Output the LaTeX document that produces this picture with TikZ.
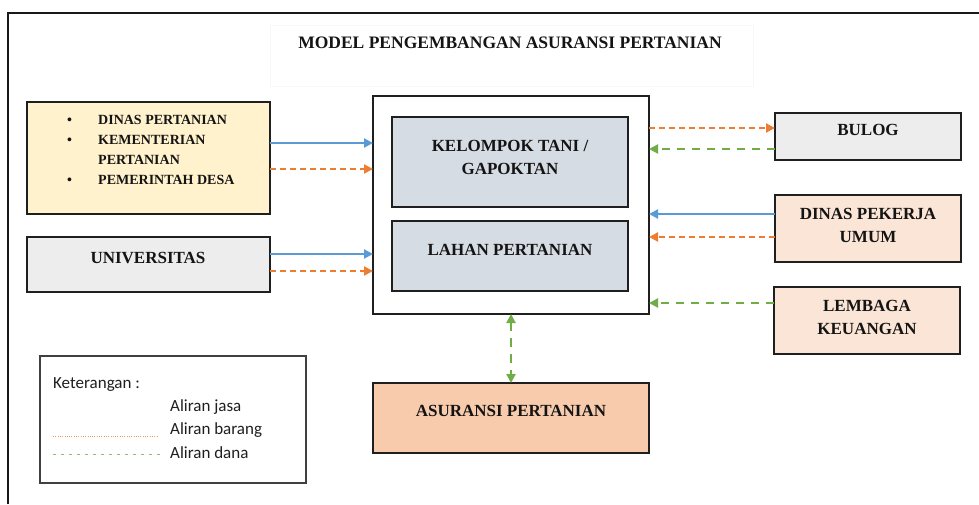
\documentclass[tikz,border=0pt]{standalone}
\usepackage{fontspec}
\setmainfont{Liberation Serif}
\newfontfamily\legfont{Carlito}
\usetikzlibrary{arrows.meta}
\definecolor{jasa}{HTML}{5B9BD5}
\definecolor{barang}{HTML}{ED7D31}
\definecolor{dana}{HTML}{70AD47}
\definecolor{kuning}{HTML}{FFF2CC}
\definecolor{abu}{HTML}{EDEDED}
\definecolor{biru}{HTML}{D6DCE4}
\definecolor{peach}{HTML}{FBE5D6}
\definecolor{peachb}{HTML}{F8CBAD}
\begin{document}
\begin{tikzpicture}[x=1pt,y=-1pt,
  box/.style={draw=black!88, line width=2.2pt, inner sep=0pt, outer sep=0pt, anchor=north west},
  lbl/.style={font=\fontsize{17}{23}\selectfont\bfseries, align=center, inner sep=0pt, text=black!92},
  leg/.style={font=\legfont\fontsize{17}{23}\selectfont, anchor=west, inner sep=0pt, text=black!88},
  jasaA/.style={draw=jasa, line width=2.1pt, -{Triangle[length=9pt,width=9pt]}},
  barangA/.style={draw=barang, line width=2.1pt, dash pattern=on 6pt off 4pt, -{Triangle[length=9pt,width=9pt]}},
  danaA/.style={draw=dana, line width=2.1pt, dash pattern=on 8pt off 7pt, -{Triangle[length=9pt,width=9pt]}},
  danaB/.style={draw=dana, line width=2.1pt, dash pattern=on 9pt off 7pt, {Triangle[length=9pt,width=9pt]}-{Triangle[length=9pt,width=9pt]}},
]
\useasboundingbox (0,0) rectangle (979,504);
\fill[white] (0,0) rectangle (979,504);
% outer frame
\draw[line width=2pt, black!90] (8,504) -- (8,13) -- (979,13);

% title
\node[draw=black!3, line width=0.8pt, inner sep=0pt, outer sep=0pt, anchor=north west, minimum width=483pt, minimum height=61pt] (tbox) at (270,25) {};
\node[lbl, font=\fontsize{17.5}{22}\selectfont\bfseries] (title) at (510,43) {MODEL PENGEMBANGAN ASURANSI PERTANIAN};

% left boxes
\node[box, fill=kuning, minimum width=243pt, minimum height=112pt] (dinas) at (27,102) {};
\node[anchor=north west, inner sep=0pt, align=left, font=\fontsize{14}{20}\selectfont\bfseries, text=black!92] (dinaslist) at (67,115)
  {\makebox[31pt][l]{\textbullet}DINAS PERTANIAN\\
   \makebox[31pt][l]{\textbullet}KEMENTERIAN\\
   \hspace*{31pt}PERTANIAN\\
   \makebox[31pt][l]{\textbullet}PEMERINTAH DESA};
\node[box, fill=abu, minimum width=243pt, minimum height=55pt] (univ) at (27,237) {};
\node[lbl] (univt) at (148,258) {UNIVERSITAS};

% central
\node[box, fill=white, minimum width=276pt, minimum height=218pt] (central) at (373,96) {};
\node[box, fill=biru, minimum width=236pt, minimum height=90pt] (kt) at (392,117) {};
\node[lbl] (ktt) at (510,157) {KELOMPOK TANI /\\GAPOKTAN};
\node[box, fill=biru, minimum width=236pt, minimum height=70pt] (lahan) at (392,221) {};
\node[lbl] (lahant) at (510,250) {LAHAN PERTANIAN};

% right boxes
\node[box, fill=abu, minimum width=186pt, minimum height=47pt] (bulog) at (775,113) {};
\node[lbl] (bulogt) at (868,130) {BULOG};
\node[box, fill=peach, minimum width=186pt, minimum height=67pt] (dpu) at (775,195) {};
\node[lbl] (dput) at (868,225) {DINAS PEKERJA\\UMUM};
\node[box, fill=peach, minimum width=186pt, minimum height=67pt] (lk) at (774,287) {};
\node[lbl] (lkt) at (867,317) {LEMBAGA\\KEUANGAN};

% bottom box
\node[box, fill=peachb, minimum width=276pt, minimum height=70pt] (asur) at (373,383) {};
\node[lbl] (asurt) at (511,411) {ASURANSI PERTANIAN};

% arrows left
\draw[jasaA] (dinas.east |- 0,143) -- (central.west |- 0,143);
\draw[barangA] (dinas.east |- 0,169) -- (central.west |- 0,169);
\draw[jasaA] (univ.east |- 0,254) -- (central.west |- 0,254);
\draw[barangA] (univ.east |- 0,271) -- (central.west |- 0,271);
% arrows right
\draw[barangA] (central.east |- 0,128) -- (bulog.west |- 0,128);
\draw[danaA] (bulog.west |- 0,149) -- (central.east |- 0,149);
\draw[jasaA] (dpu.west |- 0,214) -- (central.east |- 0,214);
\draw[barangA] (dpu.west |- 0,237) -- (central.east |- 0,237);
\draw[danaA] (lk.west |- 0,303) -- (central.east |- 0,303);
% vertical
\draw[danaB] (central.south -| 511,0) -- (asur.north -| 511,0);

% legend
\node[draw=black!75, line width=1.4pt, inner sep=0pt, outer sep=0pt, anchor=north west, minimum width=266pt, minimum height=127pt] (legend) at (40,356) {};
\node[leg] (ket) at (53,384) {Keterangan :};
\node[leg] (ljasa) at (170,407) {Aliran jasa};
\node[leg] (lbarang) at (170,430) {Aliran barang};
\node[leg] (ldana) at (170,453) {Aliran dana};
\coordinate (lb1) at (53,436);
\coordinate (lb2) at (158,436);
\coordinate (ld1) at (53,454);
\coordinate (ld2) at (162,454);
\draw[barang!80, line width=1pt, dash pattern=on 1pt off 1.3pt] (lb1) -- (lb2);
\draw[dana!80, line width=1pt, dash pattern=on 3pt off 5pt] (ld1) -- (ld2);
\end{tikzpicture}
\end{document}
